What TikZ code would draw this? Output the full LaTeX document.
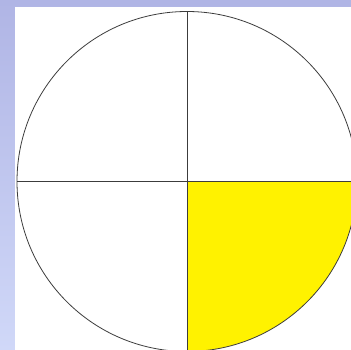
\documentclass[tikz,border=0pt]{standalone}
\usepackage{tikz}
\usetikzlibrary{calc}
\definecolor{bgblue}    {RGB}{176, 181, 229}
\definecolor{bglight}   {RGB}{208, 216, 248}
\definecolor{quadyellow}{RGB}{255, 242, 0}
\definecolor{linegray}  {RGB}{60,  60,  60}

\begin{document}
\begin{tikzpicture}[x=1pt,y=1pt,line width=0.8pt]
	\useasboundingbox (0,0) rectangle (351,350);
	\clip (0,0) rectangle (351,350);
	\shade[top color=bgblue,bottom color=bglight] (0,0) rectangle (351,350);
	\fill[white] (15,0) rectangle (351,343);
	\coordinate (O) at (187,168.5);
	% lower right quarter
	\fill[quadyellow] (O) -- ++(170,0) arc[start angle=0,end angle=-90,radius=170] -- cycle;
	\draw[linegray] (O) circle[radius=170];
	\draw[linegray] ($(O)+(0,170)$) -- ($(O)+(0,-170)$);
	\draw[linegray] ($(O)+(-170,0)$) -- ($(O)+(170,0)$);
\end{tikzpicture}
\end{document}
